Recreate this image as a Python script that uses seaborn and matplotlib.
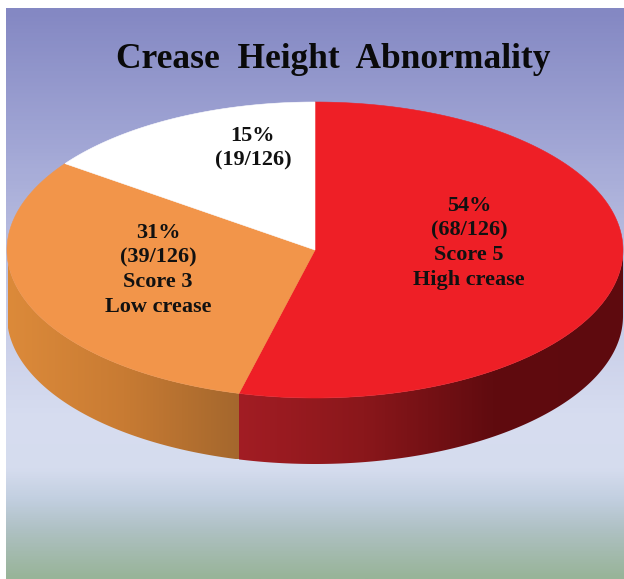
import numpy as np
import matplotlib
matplotlib.use("Agg")
import matplotlib.pyplot as plt
import seaborn as sns
from matplotlib.patches import Polygon

# data
categories = ["High crease", "Low crease", "Normal"]
counts = [68, 39, 19]
total = 126
percents = [54, 31, 15]
scores = ["Score 5", "Score 3", None]
top_colors = ["#EE1F26", "#F2954A", "#FFFFFF"]

# layout (pixel coords, y down)
W, H = 624, 579
cx, cy, a, b, depth = 315, 250, 308, 148, 66
label_pos = [(469, 243), (158, 270), (253, 148)]

sns.set_theme(style="white")
plt.rcParams["font.family"] = ["Liberation Serif", "DejaVu Serif"]

fig = plt.figure(figsize=(W / 100, H / 100), dpi=100)
ax = fig.add_axes([0, 0, 1, 1])
ax.set_xlim(0, W)
ax.set_ylim(H, 0)
ax.axis("off")

# background gradient
bg_cmap = sns.blend_palette(
    ["#8488C3", "#A3A8D6", "#C4C9E6", "#D7DDF0", "#D5DCEE", "#C2CFE0", "#AFC1C4", "#98B498"],
    as_cmap=True,
)
stops = np.array([8, 150, 300, 420, 470, 500, 530, 579])
ys = np.linspace(8, 579, 300)
grad = np.interp(ys, stops, np.linspace(0, 1, len(stops))).reshape(-1, 1)
ax.imshow(grad, cmap=bg_cmap, extent=[6, W, H, 8], aspect="auto", zorder=0)


def ell(theta):
    t = np.radians(theta)
    return cx + a * np.cos(t), cy - b * np.sin(t)


# wedge angles (clockwise from 12 o'clock)
fracs = np.array(counts) / total
cum = np.concatenate([[0], np.cumsum(fracs)])
starts = 90 - 360 * cum[:-1]
ends = 90 - 360 * cum[1:]

# side walls with horizontal shading
side_maps = [
    (sns.blend_palette(["#A31D24", "#8A171B", "#600B0F", "#5E0A0E"], as_cmap=True), 233, 624),
    (sns.blend_palette(["#DC8A3A", "#C87B33", "#A4672D"], as_cmap=True), 8, 240),
    (None, 0, 1),
]
for i in range(len(counts)):
    cmap, x0, x1 = side_maps[i]
    if cmap is None:
        continue
    # front half of the rim is theta in [-180, 0]
    lo, hi = max(ends[i], -180), min(starts[i], 0)
    if hi <= lo:
        continue
    th = np.linspace(lo, hi, 300)
    xs, ys_ = ell(th)
    pts = np.column_stack([np.r_[xs, xs[::-1]], np.r_[ys_, ys_[::-1] + depth]])
    side = Polygon(pts, closed=True, facecolor="none", edgecolor="none")
    ax.add_patch(side)
    hgrad = np.linspace(0, 1, 256).reshape(1, -1)
    im = ax.imshow(hgrad, cmap=cmap, extent=[x0, x1, ys_.max() + depth, ys_.min() - 2],
                   aspect="auto", zorder=2)
    im.set_clip_path(side)

# top faces
for i in range(len(counts)):
    th = np.linspace(starts[i], ends[i], 200)
    xs, ys_ = ell(th)
    pts = np.column_stack([np.r_[cx, xs], np.r_[cy, ys_]])
    ax.add_patch(Polygon(pts, closed=True, facecolor=top_colors[i],
                         edgecolor=top_colors[i], linewidth=0.4, zorder=3))

# labels
for i in range(len(counts)):
    lines = [f"{percents[i]}%", f"({counts[i]}/{total})"]
    if scores[i]:
        lines += [scores[i], categories[i]]
    ax.text(label_pos[i][0], label_pos[i][1], "\n".join(lines), ha="center",
            va="center", multialignment="center", fontsize=16,
            fontweight="bold", color="#111111", linespacing=1.3, zorder=5)

ax.text(333, 60, "Crease  Height  Abnormality", ha="center", va="center",
        fontsize=25.5, fontweight="bold", color="#0A0A0A", zorder=5)

fig.savefig("out.png", dpi=100, facecolor="white")
